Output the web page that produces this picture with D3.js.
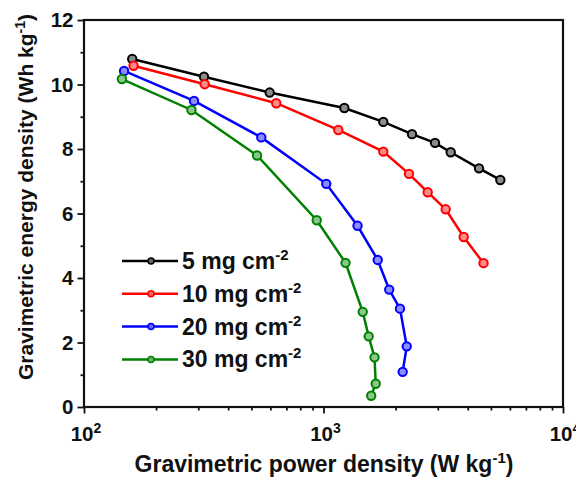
<!DOCTYPE html>
<html>
<head>
<meta charset="utf-8">
<script src="https://cdn.jsdelivr.net/npm/d3@7"></script>
<style>
  body { margin: 0; background: #fff; }
  text { font-family: "Liberation Sans", Arial, sans-serif; font-weight: bold; fill: #111; }
</style>
</head>
<body>
<div class="chart"></div>
<script>
// power density (W/kg) and energy density (Wh/kg)
const seriesNames = ['5', '10', '20', '30']
const seriesColors = ['#000000', '#ff0000', '#0000ff', '#008000']
const power5 = [159, 317, 596, 1222, 1777, 2342, 2922, 3397, 4460, 5475]
const energy5 = [10.79, 10.24, 9.75, 9.27, 8.84, 8.46, 8.19, 7.90, 7.40, 7.04]
const power10 = [161, 319, 635, 1153, 1777, 2275, 2723, 3237, 3849, 4657]
const energy10 = [10.58, 10.01, 9.42, 8.59, 7.92, 7.23, 6.66, 6.13, 5.27, 4.46]
const power20 = [147, 288, 550, 1027, 1387, 1684, 1881, 2086, 2226, 2141]
const energy20 = [10.42, 9.49, 8.36, 6.92, 5.62, 4.56, 3.64, 3.05, 1.88, 1.09]
const power30 = [144, 281, 528, 937, 1236, 1458, 1544, 1633, 1652, 1582]
const energy30 = [10.17, 9.21, 7.80, 5.79, 4.47, 2.95, 2.19, 1.54, 0.72, 0.35]
const yTicks = [0, 2, 4, 6, 8, 10, 12]
const xTicks = [100, 1000, 10000]

const width = 576, height = 479
const margin = {top: 20, right: 13, bottom: 72, left: 84}
const innerWidth = width - margin.left - margin.right
const innerHeight = height - margin.top - margin.bottom

const svg = d3.select('.chart').append('svg').attr('width', width).attr('height', height)
const g = svg.append('g').attr('transform', `translate(${margin.left}, ${margin.top})`)

const x = d3.scaleLog().domain([100, 10000]).range([0, innerWidth])
const y = d3.scaleLinear().domain([0, 12]).range([innerHeight, 0])

const series = [
  {name: seriesNames[0], color: seriesColors[0], pts: power5.map((p, i) => [p, energy5[i]])},
  {name: seriesNames[1], color: seriesColors[1], pts: power10.map((p, i) => [p, energy10[i]])},
  {name: seriesNames[2], color: seriesColors[2], pts: power20.map((p, i) => [p, energy20[i]])},
  {name: seriesNames[3], color: seriesColors[3], pts: power30.map((p, i) => [p, energy30[i]])}
]

// minor ticks
const xMinor = []
for (let d = 100; d < 10000; d *= 10) for (let k = 2; k <= 9; k++) xMinor.push(d * k)
const yMinor = d3.range(1, 12, 2)

g.append('g').attr('transform', `translate(0, ${innerHeight})`)
  .call(d3.axisBottom(x).tickValues(xMinor).tickSize(3.5).tickFormat(''))
g.append('g')
  .call(d3.axisLeft(y).tickValues(yMinor).tickSize(3.5).tickFormat(''))

const xAxis = g.append('g').attr('transform', `translate(0, ${innerHeight})`)
  .call(d3.axisBottom(x).tickValues(xTicks).tickSize(6.5).tickFormat(''))
const yAxis = g.append('g')
  .call(d3.axisLeft(y).tickValues(yTicks).tickSize(6.5).tickPadding(4).tickFormat(d3.format('d')))

g.selectAll('.domain').remove()
g.selectAll('.tick line').attr('stroke', '#111').attr('stroke-width', 1.8)
yAxis.selectAll('text').attr('font-size', 20.5).style('font-family', null)

// x tick labels with exponents
xTicks.forEach(v => {
  const t = g.append('text').attr('x', x(v) + 2).attr('y', innerHeight + 34)
    .attr('text-anchor', 'middle').attr('font-size', 20.5)
  t.append('tspan').text('10')
  t.append('tspan').attr('dy', -8).attr('font-size', 14).text(Math.log10(v))
})

// frame
g.append('rect').attr('width', innerWidth).attr('height', innerHeight)
  .attr('fill', 'none').attr('stroke', '#111').attr('stroke-width', 2.2)

const line = d3.line().x(d => x(d[0])).y(d => y(d[1]))

series.forEach(s => {
  g.append('path').datum(s.pts).attr('d', line)
    .attr('fill', 'none').attr('stroke', s.color).attr('stroke-width', 2.5)
  g.selectAll(null).data(s.pts).join('circle')
    .attr('cx', d => x(d[0])).attr('cy', d => y(d[1])).attr('r', 4.2)
    .attr('fill', d3.interpolateRgb(s.color, '#fff')(0.55))
    .attr('stroke', s.color).attr('stroke-width', 2)
})

// legend
const legend = g.append('g').attr('transform', `translate(${122 - margin.left}, ${261 - margin.top})`)
series.forEach((s, i) => {
  const row = legend.append('g').attr('transform', `translate(0, ${i * 32.8})`)
  row.append('line').attr('x1', 0).attr('x2', 56).attr('stroke', s.color).attr('stroke-width', 2.5)
  row.append('circle').attr('cx', 29).attr('r', 3)
    .attr('fill', d3.interpolateRgb(s.color, '#fff')(0.4)).attr('stroke', s.color).attr('stroke-width', 1.5)
  const t = row.append('text').attr('x', 60).attr('y', 8).attr('font-size', 23)
  t.append('tspan').text(`${s.name} mg cm`)
  t.append('tspan').attr('dy', -9).attr('font-size', 15).text('-2')
})

// axis titles
const xt = svg.append('text').attr('x', 324).attr('y', 472).attr('text-anchor', 'middle').attr('font-size', 23)
xt.append('tspan').text('Gravimetric power density (W kg')
xt.append('tspan').attr('dy', -9).attr('font-size', 15).text('-1')
xt.append('tspan').attr('dy', 9).text(')')

const yt = svg.append('text').attr('transform', 'translate(33, 197) rotate(-90)')
  .attr('text-anchor', 'middle').attr('font-size', 21)
yt.append('tspan').text('Gravimetric energy density (Wh kg')
yt.append('tspan').attr('dy', -8).attr('font-size', 14).text('-1')
yt.append('tspan').attr('dy', 8).text(')')
</script>
</body>
</html>
